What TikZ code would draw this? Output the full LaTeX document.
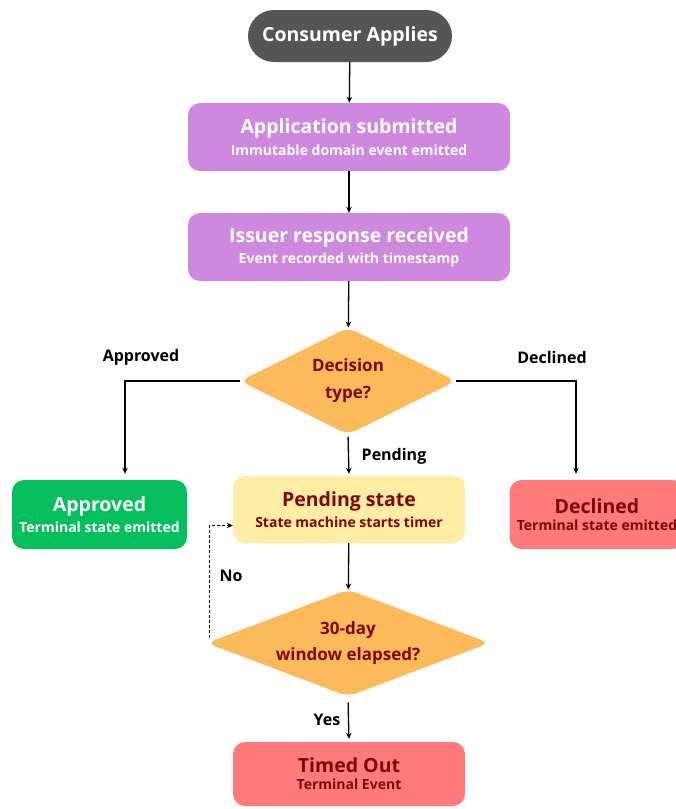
\documentclass[tikz,border=0pt]{standalone}
\usepackage{fontspec}
\setmainfont{Open Sans}
\usetikzlibrary{positioning, shapes.geometric, arrows.meta}

\definecolor{startGray}{RGB}{85,85,85}
\definecolor{eventViolet}{RGB}{207,136,224}
\definecolor{decisionOrange}{RGB}{253,186,90}
\definecolor{okGreen}{RGB}{5,190,92}
\definecolor{waitYellow}{RGB}{255,236,165}
\definecolor{failRed}{RGB}{255,123,123}
\definecolor{textRed}{RGB}{125,8,8}

\newcommand{\boxtitle}[1]{{\fontsize{19.5}{23}\selectfont\bfseries #1}}
\newcommand{\boxsub}[1]{{\fontsize{14}{17}\selectfont\bfseries #1}}

\begin{document}
\begin{tikzpicture}[x=1pt,y=-1pt,
  every node/.style={font=\bfseries},
  flowbox/.style={rectangle, rounded corners=12pt, align=center, inner sep=0pt},
  eventbox/.style={flowbox, fill=eventViolet, text=white, minimum width=322pt, minimum height=68pt},
  decision/.style={diamond, rounded corners=9pt, fill=decisionOrange, text=textRed, align=center, inner sep=0pt},
  flowarrow/.style={draw=black, line width=1.3pt, -{Stealth[length=6pt,width=5.5pt]}},
  loopback/.style={flowarrow, line width=1.2pt, dashed, dash pattern=on 3pt off 2pt},
  edgelabel/.style={font=\fontsize{16}{19}\selectfont\bfseries, text=black}
]
\path[use as bounding box, fill=white] (0,0) rectangle (676,809);
\begin{scope}
\path[clip] (0,0) rectangle (676,809);

\node[flowbox, rounded corners=26pt, fill=startGray, text=white, minimum width=204pt, minimum height=52pt,
  font=\fontsize{19.5}{24}\selectfont\bfseries] (consumer) at (350,36) {Consumer Applies};

\node[eventbox] (submitted) at (349,137) {\boxtitle{Application submitted}\\[5pt]\boxsub{Immutable domain event emitted}};
\node[eventbox] (received) at (349,247) {\boxtitle{Issuer response received}\\[5pt]\boxsub{Event recorded with timestamp}};

\node[decision, aspect=2, minimum width=216pt, minimum height=107pt, font=\fontsize{17}{27}\selectfont\bfseries] (decisiontype) at (348,381) {Decision\\type?};

\node[flowbox, fill=okGreen, text=white, minimum width=175pt, minimum height=69pt] (approved) at (99.5,514.5)
  {\boxtitle{Approved}\\[5pt]\boxsub{Terminal state emitted}};
\node[flowbox, fill=waitYellow, text=textRed, minimum width=232pt, minimum height=67pt] (pending) at (349,509.5)
  {\boxtitle{Pending state}\\[5pt]\boxsub{State machine starts timer}};
\node[flowbox, fill=failRed, text=textRed, minimum width=175pt, minimum height=69pt] (declined) at (597,514.5)
  {\boxtitle{Declined}\\[5pt]\boxsub{Terminal state emitted}};

\node[decision, aspect=2.65, minimum width=283pt, minimum height=107pt, font=\fontsize{17}{26}\selectfont\bfseries] (window) at (348,643) {30-day\\window elapsed?};

\node[flowbox, fill=failRed, text=textRed, minimum width=232pt, minimum height=64pt] (timedout) at (349,774)
  {\boxtitle{Timed Out}\\[5pt]\boxsub{Terminal Event}};

% connectors
\draw[flowarrow] (consumer) -- (submitted);
\draw[flowarrow] (submitted) -- (received);
\draw[flowarrow] (received) -- (decisiontype);
\draw[flowarrow, shorten >=6pt] (decisiontype.west) -| ([xshift=25.5pt]approved.north);
\draw[flowarrow, shorten >=6pt] (decisiontype.east) -| ([xshift=-21pt]declined.north);
\draw[flowarrow, shorten <=2pt, shorten >=2pt] (decisiontype.south) -- (pending.north);
\draw[flowarrow] (pending) -- (window);
\draw[flowarrow, shorten <=6pt, shorten >=3pt] (window.south) -- (timedout.north);

\coordinate (nofoot) at ([xshift=3pt,yshift=5pt]window.west);
\coordinate (nohead) at ([yshift=-16pt]pending.west);
\draw[loopback] (nofoot) |- (nohead);

% labels
\node[edgelabel] (lblapproved) at (141,357) {Approved};
\node[edgelabel] (lbldeclined) at (552,357) {Declined};
\node[edgelabel] (lblpending) at (394,456) {Pending};
\node[edgelabel] (lblno) at (231,576) {No};
\node[edgelabel] (lblyes) at (327,720) {Yes};
\end{scope}
\end{tikzpicture}
\end{document}
